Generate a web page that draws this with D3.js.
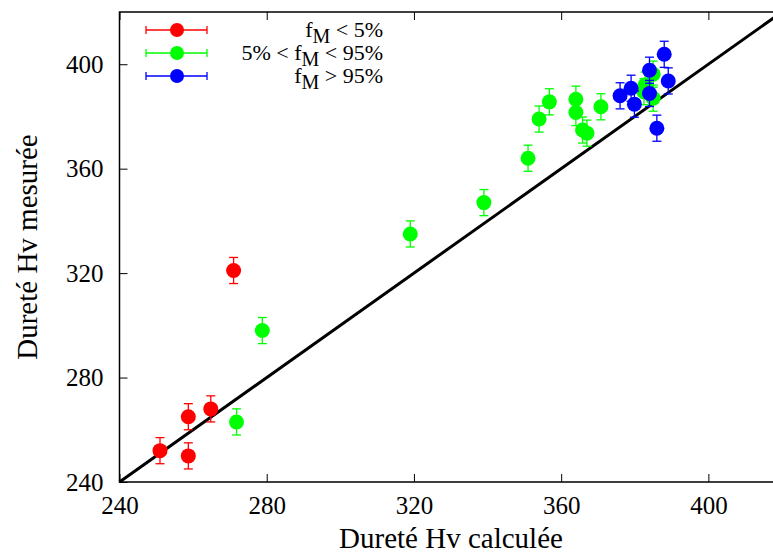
<!DOCTYPE html>
<html><head><meta charset="utf-8">
<script src="https://cdn.jsdelivr.net/npm/d3@7"></script>
<style>body{margin:0;background:#fff}svg{display:block}</style>
</head><body>
<svg id="c" width="773" height="554"></svg>
<script>
const xTicks = [240, 280, 320, 360, 400];
const yTicks = [240, 280, 320, 360, 400];
const redX = [251, 258.7, 258.7, 264.8, 271];
const redY = [252, 265, 250, 268, 321];
const greenX = [278.8, 271.8, 319, 339, 351, 354, 356.8, 364, 364, 365.8, 367, 370.8, 385, 382.8, 382.5, 385];
const greenY = [298, 263, 335, 347, 364, 379, 385.6, 386.6, 381.5, 374.8, 373.6, 383.7, 396.2, 392, 389.5, 387];
const blueX = [376, 379, 379.9, 384, 384, 388, 389.1, 386];
const blueY = [387.9, 390.8, 384.7, 397.7, 388.8, 403.8, 393.6, 375.5];
const errY = 5;
const series = [
  {label: "lt", color: "#ff0000", xs: redX, ys: redY},
  {label: "mid", color: "#00ff00", xs: greenX, ys: greenY},
  {label: "gt", color: "#0000ff", xs: blueX, ys: blueY}
];

const svg = d3.select("#c");
const L = 119.5, R = 782, T = 12, B = 482;
const x = d3.scaleLinear().domain([240, 420]).range([L, R]);
const y = d3.scaleLinear().domain([240, 420]).range([B, T]);
const font = "'Liberation Serif', 'Times New Roman', serif";

// frame
svg.append("rect").attr("x", L).attr("y", T).attr("width", R - L).attr("height", B - T)
  .attr("fill", "none").attr("stroke", "#000").attr("stroke-width", 1.5);

// axes with inward ticks
const gx = svg.append("g").attr("transform", `translate(0,${B})`)
  .call(d3.axisBottom(x).tickValues(xTicks).tickSize(-8).tickPadding(14).tickFormat(d3.format("d")));
const gxt = svg.append("g").attr("transform", `translate(0,${T})`)
  .call(d3.axisTop(x).tickValues(xTicks).tickSize(-8).tickFormat(""));
const gy = svg.append("g").attr("transform", `translate(${L},0)`)
  .call(d3.axisLeft(y).tickValues(yTicks).tickSize(-8).tickPadding(16).tickFormat(d3.format("d")));
const gyr = svg.append("g").attr("transform", `translate(${R},0)`)
  .call(d3.axisRight(y).tickValues(yTicks).tickSize(-8).tickFormat(""));
[gx, gxt, gy, gyr].forEach(g => {
  g.attr("font-family", font);
  g.select(".domain").remove();
  g.selectAll("line").attr("stroke", "#000").attr("stroke-width", 1);
  g.selectAll("text").attr("font-family", font).attr("font-size", 25).attr("fill", "#000");
});

// axis titles
svg.append("text").attr("x", 451).attr("y", 548).attr("text-anchor", "middle")
  .attr("font-family", font).attr("font-size", 29).text("Dureté Hv calculée");
svg.append("text").attr("transform", "translate(37,247) rotate(-90)").attr("text-anchor", "middle")
  .attr("font-family", font).attr("font-size", 29).text("Dureté Hv mesurée");

// diagonal y = x
svg.append("line").attr("x1", x(240)).attr("y1", y(240)).attr("x2", x(420)).attr("y2", y(420))
  .attr("stroke", "#000").attr("stroke-width", 3);

// data
series.forEach(s => {
  const g = svg.append("g");
  const pts = s.xs.map((v, i) => [v, s.ys[i]]);
  pts.forEach(([a, b]) => {
    const cx = x(a);
    g.append("line").attr("x1", cx).attr("x2", cx).attr("y1", y(b - errY)).attr("y2", y(b + errY))
      .attr("stroke", s.color).attr("stroke-width", 1.3);
    [b - errY, b + errY].forEach(v => g.append("line").attr("x1", cx - 4.5).attr("x2", cx + 4.5)
      .attr("y1", y(v)).attr("y2", y(v)).attr("stroke", s.color).attr("stroke-width", 1.3));
  });
  pts.forEach(([a, b]) => {
    g.append("circle").attr("cx", x(a)).attr("cy", y(b)).attr("r", 7.5).attr("fill", s.color);
  });
});

// legend
const legRows = [30, 53, 76];
const legText = [
  [["f", "n"], ["M", "sub"], [" < 5%", "up"]],
  [["5% < f", "n"], ["M", "sub"], [" < 95%", "up"]],
  [["f", "n"], ["M", "sub"], [" > 95%", "up"]]
];
series.forEach((s, i) => {
  const yy = legRows[i];
  const g = svg.append("g");
  g.append("line").attr("x1", 146).attr("x2", 207).attr("y1", yy).attr("y2", yy).attr("stroke", s.color).attr("stroke-width", 1.3);
  [146, 207].forEach(xx => g.append("line").attr("x1", xx).attr("x2", xx).attr("y1", yy - 4).attr("y2", yy + 4).attr("stroke", s.color).attr("stroke-width", 1.3));
  g.append("circle").attr("cx", 177).attr("cy", yy).attr("r", 7).attr("fill", s.color);
  const t = g.append("text").attr("x", 383).attr("y", yy + 7).attr("text-anchor", "end")
    .attr("font-family", font).attr("font-size", 22);
  legText[i].forEach(([str, kind]) => {
    const ts = t.append("tspan").text(str);
    if (kind === "sub") ts.attr("dy", 6).attr("font-size", 20);
    else if (kind === "up") ts.attr("dy", -6);
  });
});
</script>
</body></html>
